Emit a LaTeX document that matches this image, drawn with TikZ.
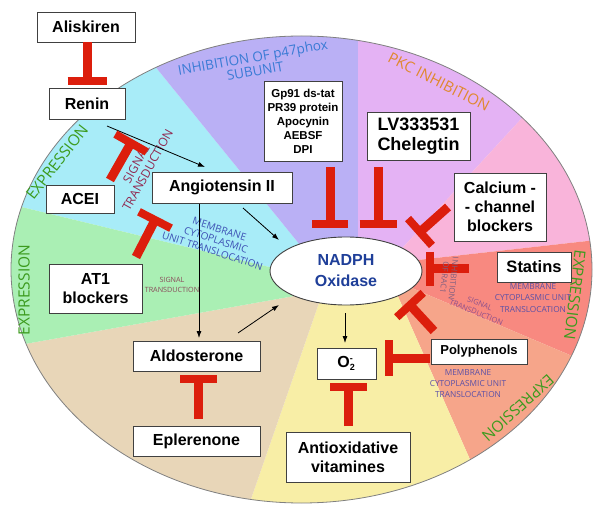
\documentclass[tikz,border=0pt]{standalone}
\usepackage{fontspec}
\setmainfont{Liberation Sans}
\newfontfamily\labfont{Open Sans}
\usetikzlibrary{arrows.meta,calc,shapes.geometric}
\definecolor{ccyan}{RGB}{168,236,248}
\definecolor{cpurple}{RGB}{186,176,245}
\definecolor{cpkc}{RGB}{228,178,244}
\definecolor{ccalc}{RGB}{249,180,218}
\definecolor{cstat}{RGB}{248,137,128}
\definecolor{cpoly}{RGB}{246,165,138}
\definecolor{cyell}{RGB}{248,238,166}
\definecolor{ctan}{RGB}{232,214,184}
\definecolor{cgreen}{RGB}{170,239,180}
\definecolor{tred}{RGB}{220,30,12}
\definecolor{expgreen}{RGB}{60,155,30}
\definecolor{sigred}{RGB}{145,40,80}
\definecolor{memblue}{RGB}{60,80,180}
\definecolor{p47blue}{RGB}{58,123,213}
\definecolor{pkcorange}{RGB}{224,136,46}
\definecolor{membpurple}{RGB}{92,80,166}
\definecolor{racgray}{RGB}{128,96,128}
\definecolor{sigpurple}{RGB}{140,80,140}
\definecolor{sigbrown}{RGB}{138,74,90}
\definecolor{nadblue}{RGB}{31,63,153}
\newcommand\fs[2]{\fontsize{#1}{#2}\selectfont}
\newcommand\inhT[3]{%
  \draw[tstem] (#1) -- (#2);
  \draw[tbar] ($(#2)!#3!90:(#1)$) -- ($(#2)!#3!-90:(#1)$);}
\begin{document}
\begin{tikzpicture}[x=1pt,y=-1pt,
  box/.style={draw=black!75, fill=white, line width=0.9pt, inner sep=0pt, align=center, font=\fs{16}{19}\bfseries},
  tstem/.style={draw=tred, line width=9pt},
  tbar/.style={draw=tred, line width=8pt},
  arr/.style={draw=black, line width=0.8pt, -{Latex[length=7pt,width=5pt]}},
  lab/.style={inner sep=0pt, align=center},
]
\useasboundingbox (0,0) rectangle (600,513);
\fill[white] (0,0) rectangle (600,513);
% sector geometry
\coordinate (O) at (346,271);
\coordinate (b1i) at (300,245); \coordinate (b1o) at (85,-20);
\coordinate (b2i) at (358,250); \coordinate (b2o) at (358,-20);
\coordinate (b3i) at (395,256); \coordinate (b3o) at (649,-20);
\coordinate (b4i) at (400,262); \coordinate (b4o) at (650,234);
\coordinate (b5i) at (400,283); \coordinate (b5o) at (650,389);
\coordinate (b6i) at (396,292); \coordinate (b6o) at (532,600);
\coordinate (b7i) at (320,300); \coordinate (b7o) at (216,600);
\coordinate (b8i) at (300,295); \coordinate (b8o) at (-20,352);
\coordinate (b9i) at (290,272); \coordinate (b9o) at (-20,197);
\begin{scope}
\clip (301.5,269.5) ellipse [x radius=290.5pt, y radius=233.5pt];
\fill[ccyan] (O) -- (b9i) -- (b9o) -- (-20,-20) -- (b1o) -- (b1i) -- cycle;
\fill[cpurple] (O) -- (b1i) -- (b1o) -- (b2o) -- (b2i) -- cycle;
\fill[cpkc] (O) -- (b2i) -- (b2o) -- (b3o) -- (b3i) -- cycle;
\fill[ccalc] (O) -- (b3i) -- (b3o) -- (650,-20) -- (b4o) -- (b4i) -- cycle;
\fill[cstat] (O) -- (b4i) -- (b4o) -- (b5o) -- (b5i) -- cycle;
\fill[cpoly] (O) -- (b5i) -- (b5o) -- (650,600) -- (b6o) -- (b6i) -- cycle;
\fill[cyell] (O) -- (b6i) -- (b6o) -- (b7o) -- (b7i) -- cycle;
\fill[ctan] (O) -- (b7i) -- (b7o) -- (-20,600) -- (b8o) -- (b8i) -- cycle;
\fill[cgreen] (O) -- (b8i) -- (b8o) -- (b9o) -- (b9i) -- cycle;
\end{scope}
\draw[black!50, line width=0.8pt] (301.5,269.5) ellipse [x radius=290.5pt, y radius=233.5pt];

% coloured labels
\begin{scope}[every node/.style={lab}]
\node[text=expgreen, font=\labfont\fs{15.5}{17}, rotate=52] (e1) at (57,162) {EXPRESSION};
\node[text=expgreen, font=\labfont\fs{15.5}{17}, rotate=90] (e2) at (24,290) {EXPRESSION};
\node[text=expgreen, font=\labfont\fs{15.5}{17}, rotate=-97] (e3) at (575,295) {EXPRESSION};
\node[text=expgreen, font=\labfont\fs{15.5}{17}, rotate=-138] (e4) at (518,408) {EXPRESSION};
\node[text=p47blue, font=\labfont\fs{13.5}{14}, rotate=10] (p47) at (254,64) {INHIBITION OF p47phox\\SUBUNIT};
\node[text=pkcorange, font=\labfont\fs{15}{16}, rotate=-27] (pkc) at (439,82) {PKC INHIBITION};
\node[text=sigred, font=\labfont\fs{12}{13}, rotate=61] (sig1) at (142,167) {SIGNAL\\TRANSDUCTION};
\node[text=memblue, font=\labfont\fs{10}{11.5}, rotate=-18] (mem1) at (216,240) {MEMBRANE\\CYTOPLASMIC\\UNIT TRANSLOCATION};
\node[text=sigbrown, font=\labfont\fs{7.2}{10}] (sig2) at (172,285) {SIGNAL\\TRANSDUCTION};
\node[text=sigpurple, font=\labfont\fs{7.5}{9.5}, rotate=-22] (sig3) at (478,308) {SIGNAL\\TRANSDUCTION};
\node[text=membpurple, font=\labfont\fs{8.3}{11.5}] (mem2) at (533,298) {MEMBRANE\\CYTOPLASMIC UNIT\\TRANSLOCATION};
\node[text=membpurple, font=\labfont\fs{8.3}{11}] (mem3) at (468,384) {MEMBRANE\\CYTOPLASMIC UNIT\\TRANSLOCATION};
\end{scope}

% boxes
\node[box, minimum width=98pt, minimum height=30pt] (aliskiren) at (86,27) {Aliskiren};
\node[box, minimum width=76pt, minimum height=31pt] (renin) at (87,103.5) {Renin};
\node[box, minimum width=68pt, minimum height=28pt] (acei) at (80,199) {ACEI};
\node[box, minimum width=93pt, minimum height=49pt] (at1) at (95.5,288.5) {AT1\\blockers};
\node[box, minimum width=140pt, minimum height=31pt] (ang) at (222,187.5) {Angiotensin II};
\node[box, minimum width=78pt, minimum height=80pt, font=\fs{11.5}{14}\bfseries] (gp91) at (303,121) {Gp91 ds-tat\\PR39 protein\\Apocynin\\AEBSF\\DPI};
\node[box, minimum width=103pt, minimum height=48pt, font=\fs{18}{20}\bfseries] (lv) at (418.5,136) {LV333531\\Chelegtin};
\node[box, minimum width=92pt, minimum height=68pt] (calc) at (500,207) {Calcium -\\- channel\\blockers};
\node[box, minimum width=74pt, minimum height=30pt, font=\fs{16.5}{19}\bfseries] (statins) at (534,267) {Statins};
\node[box, minimum width=96pt, minimum height=25pt, font=\fs{13}{15}\bfseries] (poly) at (479,351.5) {Polyphenols};
\node[box, minimum width=127pt, minimum height=30pt] (aldo) at (196.5,356) {Aldosterone};
\node[box, minimum width=127pt, minimum height=30pt] (eple) at (196.5,441) {Eplerenone};
\node[box, minimum width=59pt, minimum height=31pt] (o2) at (346.5,363.5) {O\rlap{\raisebox{-3.5pt}{\fs{9}{9}\bfseries 2}}\raisebox{5.5pt}{\fs{9}{9}\bfseries -}\,};
\node[box, minimum width=124pt, minimum height=50pt] (anti) at (348,457) {Antioxidative\\vitamines};
\node[draw=black!75, fill=white, line width=0.9pt, ellipse, inner sep=0pt, minimum width=152pt, minimum height=68pt, align=center, text=nadblue, font=\fs{16}{21}\bfseries] (nadph) at (346,271) {NADPH\\Oxidase};

% arrows
\coordinate (a1s) at (107,126); \coordinate (a1e) at (205,167);
\coordinate (a2s) at (243,208); \coordinate (a2e) at (279,240);
\coordinate (a3s) at (199,204); \coordinate (a3e) at (199,338);
\coordinate (a4s) at (238,333); \coordinate (a4e) at (279,305);
\coordinate (a5s) at (345,313); \coordinate (a5e) at (345,343);
\draw[arr] (a1s) -- (a1e);
\draw[arr] (a2s) -- (a2e);
\draw[arr] (a3s) -- (a3e);
\draw[arr] (a4s) -- (a4e);
\draw[arr] (a5s) -- (a5e);

% inhibition T's
\coordinate (t1s) at (87,42);   \coordinate (t1c) at (87,81.5);
\coordinate (t2s) at (110,180); \coordinate (t2c) at (131,143);
\coordinate (t3s) at (136,257); \coordinate (t3c) at (155,220);
\coordinate (t4s) at (330,167); \coordinate (t4c) at (330,224);
\coordinate (t5s) at (378,167); \coordinate (t5c) at (378,224);
\coordinate (t6s) at (448,207); \coordinate (t6c) at (420,232);
\coordinate (t7s) at (469,269); \coordinate (t7c) at (430,269);
\coordinate (t8s) at (434,331); \coordinate (t8c) at (410,305);
\coordinate (t9s) at (430,358); \coordinate (t9c) at (389,358);
\coordinate (t10s) at (198,419); \coordinate (t10c) at (198,379);
\coordinate (t11s) at (348,426); \coordinate (t11c) at (348,387);
\inhT{t1s}{t1c}{19.5pt}
\inhT{t2s}{t2c}{18pt}
\inhT{t3s}{t3c}{18pt}
\inhT{t4s}{t4c}{18pt}
\inhT{t5s}{t5c}{18.5pt}
\inhT{t6s}{t6c}{18pt}
\inhT{t7s}{t7c}{17pt}
\inhT{t8s}{t8c}{18pt}
\inhT{t9s}{t9c}{18pt}
\inhT{t10s}{t10c}{18.5pt}
\inhT{t11s}{t11c}{18.5pt}
% label drawn over the statins stem
\node[lab, text=racgray, font=\labfont\fs{8}{9}, rotate=-96] (rac) at (449,278) {INHIBITION\\OF RAC1};
\end{tikzpicture}
\end{document}
